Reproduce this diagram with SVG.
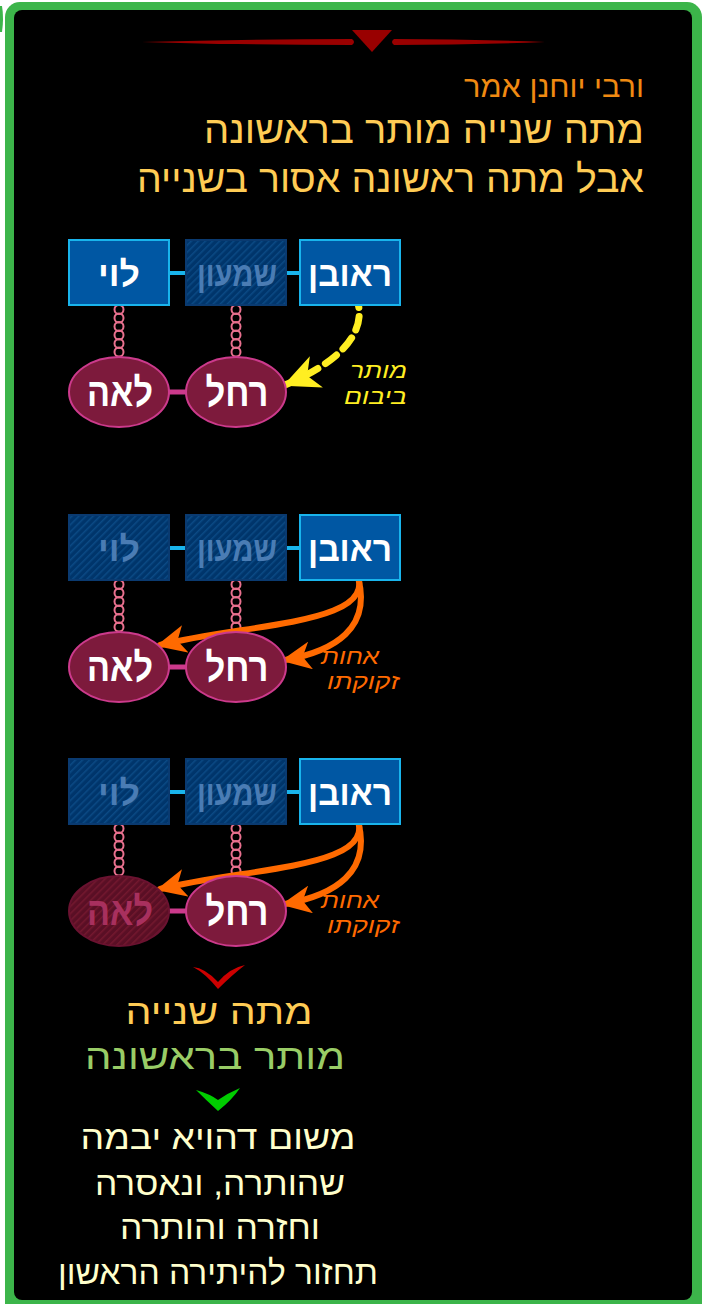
<svg xmlns="http://www.w3.org/2000/svg" width="706" height="1304" viewBox="0 0 706 1304">
<style>
.t{font-family:"Liberation Sans","DejaVu Sans",sans-serif}
.box{fill:#0057a3;stroke:#19b4ec;stroke-width:2}
.boxf{fill:url(#hatchB);stroke:#0a3a70;stroke-width:2}
.ell{fill:#7d1a3c;stroke:#cc3a8c;stroke-width:2}
.ellf{fill:url(#hatchR);stroke:#6a1230;stroke-width:2}
.nl{font-family:"Liberation Sans","DejaVu Sans",sans-serif;font-weight:bold;font-size:35px;fill:#ffffff;text-anchor:middle}
.nlf{fill:#4a7cb4}
.el{font-family:"Liberation Sans","DejaVu Sans",sans-serif;font-weight:bold;font-size:40px;fill:#ffffff;text-anchor:middle}
.elf{fill:#a8305e}
.lk{stroke:#19b4ec;stroke-width:4}
.lm{stroke:#cc3a8c;stroke-width:5}
.lab{font-family:"Liberation Sans","DejaVu Sans",sans-serif;font-style:italic;font-size:22px;text-anchor:end}
</style>
<defs>
<pattern id="hatchB" patternUnits="userSpaceOnUse" width="5" height="5" patternTransform="rotate(45)">
<rect width="5" height="5" fill="#00356b"/>
<rect width="1.5" height="5" fill="#0b4a85"/>
</pattern>
<pattern id="hatchR" patternUnits="userSpaceOnUse" width="5" height="5" patternTransform="rotate(45)">
<rect width="5" height="5" fill="#5a0f25"/>
<rect width="1.5" height="5" fill="#74182f"/>
</pattern>
<g id="chain" fill="none" stroke="#e8708e" stroke-width="2">
<ellipse cx="0" cy="4.5" rx="4.5" ry="4.5"/>
<ellipse cx="0" cy="13" rx="4.5" ry="4.5"/>
<ellipse cx="0" cy="21.5" rx="4.5" ry="4.5"/>
<ellipse cx="0" cy="30" rx="4.5" ry="4.5"/>
<ellipse cx="0" cy="38.5" rx="4.5" ry="4.5"/>
<ellipse cx="0" cy="47" rx="4.5" ry="4.5"/>
</g>
<marker id="ay" markerUnits="userSpaceOnUse" markerWidth="36" markerHeight="34" refX="34" refY="17" orient="auto" viewBox="0 0 36 34">
<path d="M36,17 L0,0 L10,17 L0,34 Z" fill="#ffee22"/>
</marker>
<marker id="ao" markerUnits="userSpaceOnUse" markerWidth="30" markerHeight="28" refX="26" refY="14" orient="auto" viewBox="0 0 30 28">
<path d="M30,14 L0,0 L8,14 L0,28 Z" fill="#ff6a00"/>
</marker>
</defs>
<rect x="0" y="0" width="706" height="1304" fill="#ffffff"/>
<path d="M0,6 L2,6 Q4,18 2,32 L0,32 Z" fill="#3cb54a"/>
<rect x="5" y="2" width="697" height="1320" rx="15" fill="#3cb54a"/>
<rect x="14" y="10" width="678" height="1290" rx="8" fill="#000000"/>

<g id="topdeco" fill="#990000">
<path d="M142,42 Q250,39 352,39 Q356,42 352,45 Q250,45 142,42 Z"/>
<path d="M545,42 Q470,39 394,39 Q390,42 394,45 Q470,45 545,42 Z"/>
<path d="M352,30 L392,30 L372,52 Z"/>
</g>

<g id="title" class="t" text-anchor="end">
<text x="644" y="97" font-size="30" fill="#f08a12" textLength="180" lengthAdjust="spacingAndGlyphs">ורבי יוחנן אמר</text>
<text x="644" y="143" font-size="39" fill="#ffcc55" textLength="440" lengthAdjust="spacingAndGlyphs">מתה שנייה מותר בראשונה</text>
<text x="644" y="192" font-size="39" fill="#ffcc55" textLength="507" lengthAdjust="spacingAndGlyphs">אבל מתה ראשונה אסור בשנייה</text>
</g>

<!-- Row 1 -->
<g id="connectors1">
<line class="lk" x1="169" y1="273" x2="186" y2="273"/>
<line class="lk" x1="286" y1="273" x2="300" y2="273"/>
<line class="lm" x1="169" y1="392" x2="186" y2="392"/>
<use href="#chain" x="119" y="305"/>
<use href="#chain" x="236" y="305"/>
<path d="M355,294 C370,328 345,360 285,385" fill="none" stroke="#ffee22" stroke-width="7" stroke-dasharray="14,9" stroke-linecap="round" marker-end="url(#ay)"/>
</g>
<g id="levi1"><rect class="box" x="69" y="240" width="100" height="65"/><text class="nl" x="119" y="286" textLength="42" lengthAdjust="spacingAndGlyphs">לוי</text></g>
<g id="shimon1"><rect class="boxf" x="186" y="240" width="100" height="65"/><text class="nl nlf" x="237" y="286" textLength="80" lengthAdjust="spacingAndGlyphs">שמעון</text></g>
<g id="reuven1"><rect class="box" x="300" y="240" width="100" height="65"/><text class="nl" x="350" y="286" textLength="84" lengthAdjust="spacingAndGlyphs">ראובן</text></g>
<g id="leah1"><ellipse class="ell" cx="119" cy="392" rx="50" ry="35"/><text class="el" x="120" y="406" textLength="66" lengthAdjust="spacingAndGlyphs">לאה</text></g>
<g id="rachel1"><ellipse class="ell" cx="236" cy="392" rx="50" ry="35"/><text class="el" x="237" y="406" textLength="63" lengthAdjust="spacingAndGlyphs">רחל</text></g>
<g id="label1" class="lab" fill="#ffee22">
<text x="407" y="378" textLength="57" lengthAdjust="spacingAndGlyphs">מותר</text>
<text x="407" y="404" textLength="63" lengthAdjust="spacingAndGlyphs">ביבום</text>
</g>

<!-- Row 2 -->
<g id="connectors2">
<line class="lk" x1="169" y1="548" x2="186" y2="548"/>
<line class="lk" x1="286" y1="548" x2="300" y2="548"/>
<line class="lm" x1="169" y1="667" x2="186" y2="667"/>
<use href="#chain" x="119" y="580"/>
<use href="#chain" x="236" y="580"/>
<path d="M355,568 C385,625 255,622 160,645" fill="none" stroke="#ff6a00" stroke-width="6" stroke-linecap="round" marker-end="url(#ao)"/>
<path d="M355,568 C378,630 330,652 285,660" fill="none" stroke="#ff6a00" stroke-width="6" stroke-linecap="round" marker-end="url(#ao)"/>
</g>
<g id="levi2"><rect class="boxf" x="69" y="515" width="100" height="65"/><text class="nl nlf" x="119" y="561" textLength="42" lengthAdjust="spacingAndGlyphs">לוי</text></g>
<g id="shimon2"><rect class="boxf" x="186" y="515" width="100" height="65"/><text class="nl nlf" x="237" y="561" textLength="80" lengthAdjust="spacingAndGlyphs">שמעון</text></g>
<g id="reuven2"><rect class="box" x="300" y="515" width="100" height="65"/><text class="nl" x="350" y="561" textLength="84" lengthAdjust="spacingAndGlyphs">ראובן</text></g>
<g id="leah2"><ellipse class="ell" cx="119" cy="667" rx="50" ry="35"/><text class="el" x="120" y="681" textLength="66" lengthAdjust="spacingAndGlyphs">לאה</text></g>
<g id="rachel2"><ellipse class="ell" cx="236" cy="667" rx="50" ry="35"/><text class="el" x="237" y="681" textLength="63" lengthAdjust="spacingAndGlyphs">רחל</text></g>
<g id="label2" class="lab" fill="#ff6a00">
<text x="379" y="664" textLength="58" lengthAdjust="spacingAndGlyphs">אחות</text>
<text x="399" y="689" textLength="72" lengthAdjust="spacingAndGlyphs">זקוקתו</text>
</g>

<!-- Row 3 -->
<g id="connectors3">
<line class="lk" x1="169" y1="792" x2="186" y2="792"/>
<line class="lk" x1="286" y1="792" x2="300" y2="792"/>
<line class="lm" x1="169" y1="911" x2="186" y2="911"/>
<use href="#chain" x="119" y="824"/>
<use href="#chain" x="236" y="824"/>
<path d="M355,812 C385,869 255,866 160,889" fill="none" stroke="#ff6a00" stroke-width="6" stroke-linecap="round" marker-end="url(#ao)"/>
<path d="M355,812 C378,874 330,896 285,904" fill="none" stroke="#ff6a00" stroke-width="6" stroke-linecap="round" marker-end="url(#ao)"/>
</g>
<g id="levi3"><rect class="boxf" x="69" y="759" width="100" height="65"/><text class="nl nlf" x="119" y="805" textLength="42" lengthAdjust="spacingAndGlyphs">לוי</text></g>
<g id="shimon3"><rect class="boxf" x="186" y="759" width="100" height="65"/><text class="nl nlf" x="237" y="805" textLength="80" lengthAdjust="spacingAndGlyphs">שמעון</text></g>
<g id="reuven3"><rect class="box" x="300" y="759" width="100" height="65"/><text class="nl" x="350" y="805" textLength="84" lengthAdjust="spacingAndGlyphs">ראובן</text></g>
<g id="leah3"><ellipse class="ellf" cx="119" cy="911" rx="50" ry="35"/><text class="el elf" x="120" y="925" textLength="66" lengthAdjust="spacingAndGlyphs">לאה</text></g>
<g id="rachel3"><ellipse class="ell" cx="236" cy="911" rx="50" ry="35"/><text class="el" x="237" y="925" textLength="63" lengthAdjust="spacingAndGlyphs">רחל</text></g>
<g id="label3" class="lab" fill="#ff6a00">
<text x="379" y="908" textLength="58" lengthAdjust="spacingAndGlyphs">אחות</text>
<text x="399" y="933" textLength="72" lengthAdjust="spacingAndGlyphs">זקוקתו</text>
</g>

<!-- Conclusion -->
<g id="chevron-red"><path d="M193,967 Q205,968 218,982 Q230,968 245,965 Q232,975 218,989 Q205,973 193,967 Z" fill="#cc0000"/></g>
<g id="conclusion" class="t" text-anchor="middle" font-size="35">
<text x="219" y="1024" fill="#ffcc55" textLength="187" lengthAdjust="spacingAndGlyphs">מתה שנייה</text>
<text x="215" y="1069" fill="#99cc66" textLength="260" lengthAdjust="spacingAndGlyphs">מותר בראשונה</text>
</g>
<g id="chevron-green"><path d="M196,1090 Q210,1094 218,1100 Q228,1093 240,1088 Q232,1100 218,1111 Q206,1100 196,1090 Z" fill="#00cc00"/></g>
<g id="reason" class="t" text-anchor="middle" font-size="34" fill="#ffffcc">
<text x="218" y="1149" textLength="275" lengthAdjust="spacingAndGlyphs">משום דהויא יבמה</text>
<text x="220" y="1195" textLength="250" lengthAdjust="spacingAndGlyphs">שהותרה, ונאסרה</text>
<text x="220" y="1239" textLength="200" lengthAdjust="spacingAndGlyphs">וחזרה והותרה</text>
<text x="218" y="1284" textLength="320" lengthAdjust="spacingAndGlyphs">תחזור להיתירה הראשון</text>
</g>
</svg>
